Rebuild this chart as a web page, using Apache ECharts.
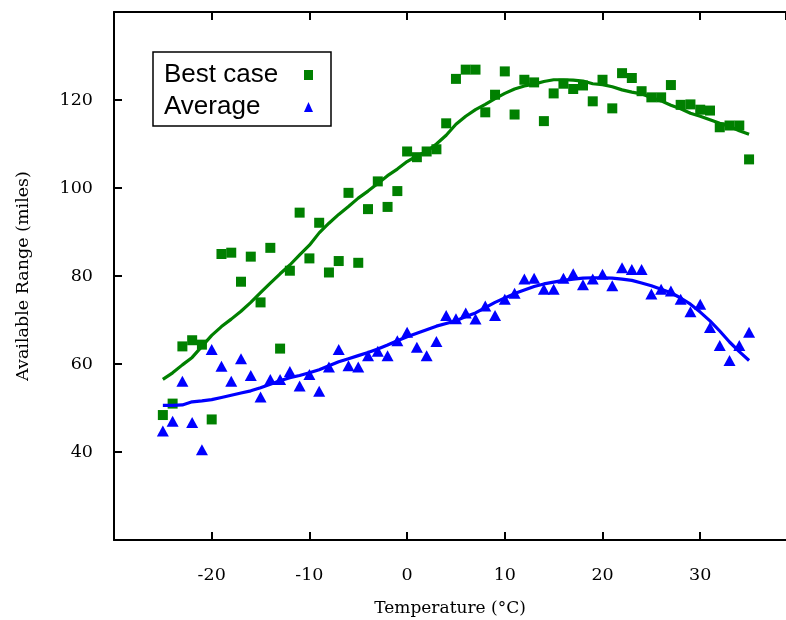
<!DOCTYPE html>
<html>
<head>
<meta charset="utf-8">
<script src="https://cdn.jsdelivr.net/npm/echarts@6/dist/echarts.min.js"></script>
<style>
  html, body { margin: 0; padding: 0; background: #ffffff; }
  #chart { width: 786px; height: 620px; }
</style>
</head>
<body>
<div id="chart"></div>
<script>
// Temperature (°C) for each observation
var temperatures = [-25,-24,-23,-22,-21,-20,-19,-18,-17,-16,-15,-14,-13,-12,-11,-10,-9,-8,-7,-6,-5,-4,-3,-2,-1,
  0,1,2,3,4,5,6,7,8,9,10,11,12,13,14,15,16,17,18,19,20,21,22,23,24,25,26,27,28,29,30,31,32,33,34,35];

// Best case range (miles), scatter points
var bestCase = [48.4,51.0,64.0,65.4,64.4,47.4,85.0,85.3,78.7,84.4,74.0,86.4,63.5,81.2,94.4,84.0,92.1,80.8,83.4,98.9,83.0,95.2,101.5,95.7,99.3,
  108.3,107.0,108.3,108.8,114.7,124.8,126.9,126.9,117.2,121.2,126.5,116.7,124.6,124.0,115.2,121.5,123.7,122.5,123.3,119.7,124.6,118.1,126.1,125.0,122.0,120.6,120.6,123.4,118.9,119.0,117.8,117.6,113.8,114.2,114.2,106.5];

// Best case smoothed trend line
var bestCaseTrend = [56.5,58.0,59.8,61.5,64.0,66.5,68.5,70.2,72.0,74.0,76.2,78.4,80.5,82.5,84.8,87.0,89.8,92.0,94.0,95.8,97.7,99.3,101.0,102.8,104.3,
  106.0,107.3,108.3,110.0,112.0,114.5,116.3,117.8,119.0,120.3,121.5,122.5,123.2,123.6,124.2,124.6,124.6,124.5,124.3,123.7,123.5,123.0,122.3,121.8,121.4,120.5,119.8,118.8,118.0,117.0,116.3,115.5,114.7,114.0,113.0,112.2];

// Average range (miles), scatter points
var average = [44.8,47.0,56.1,46.7,40.5,63.3,59.5,56.1,61.2,57.4,52.5,56.5,56.5,58.3,55.0,57.6,53.8,59.3,63.3,59.6,59.3,61.9,62.9,61.9,65.3,
  67.2,63.8,61.9,65.1,71.0,70.3,71.6,70.2,73.2,71.0,74.7,76.1,79.3,79.5,77.0,77.0,79.5,80.5,78.0,79.3,80.4,77.8,81.9,81.5,81.5,75.9,77.0,76.6,74.7,71.9,73.6,68.3,64.2,60.8,64.2,67.2];

// Average smoothed trend line
var averageTrend = [50.6,50.6,50.7,51.4,51.6,51.9,52.4,52.9,53.4,53.9,54.6,55.4,56.2,56.9,57.4,58.0,58.7,59.6,60.5,61.2,61.9,62.6,63.4,64.3,65.3,
  66.2,67.0,67.8,68.6,69.2,69.8,70.8,71.6,72.8,74.0,75.0,76.0,76.8,77.6,78.2,78.6,79.0,79.3,79.5,79.6,79.6,79.5,79.3,79.0,78.4,77.8,77.0,76.2,75.0,73.6,71.8,69.8,67.5,65.0,62.8,60.8];

var seriesNames = ['Best case', 'Average'];
var xAxisName = 'Temperature (°C)';
var yAxisName = 'Available Range (miles)';

function pairs(xs, ys) {
  return xs.map(function (x, i) { return [x, ys[i]]; });
}

var GREEN = '#008000';
var BLUE = '#0000ff';
var SERIF = '"DejaVu Serif", "Liberation Serif", serif';

var chart = echarts.init(document.getElementById('chart'), null, { renderer: 'canvas' });

var axisLineStyle = { color: '#000', width: 2 };

chart.setOption({
  animation: false,
  backgroundColor: '#ffffff',
  grid: { left: 114, top: 12, right: 0, bottom: 80, containLabel: false, outerBoundsMode: 'none' },
  legend: {
    orient: 'vertical',
    left: 153,
    top: 52,
    align: 'right',
    padding: [10, 18, 6, 11],
    itemGap: 6,
    itemWidth: 9,
    itemHeight: 10,
    borderColor: '#000',
    borderWidth: 1.5,
    borderRadius: 0,
    data: [
      { name: seriesNames[0], icon: 'rect' },
      { name: seriesNames[1], icon: 'triangle' }
    ],
    formatter: function (name) { return '{a|' + name + '}'; },
    textStyle: {
      color: '#000',
      fontFamily: '"Liberation Sans", Arial, sans-serif',
      fontSize: 26,
      rich: {
        a: {
          width: 135,
          align: 'left',
          fontSize: 26,
          fontFamily: '"Liberation Sans", Arial, sans-serif',
          color: '#000'
        }
      }
    }
  },
  xAxis: [
    {
      type: 'value',
      min: -30,
      max: 38.78,
      interval: 10,
      position: 'bottom',
      name: xAxisName,
      nameLocation: 'middle',
      nameGap: 60,
      nameTextStyle: { fontFamily: SERIF, fontSize: 17, color: '#000' },
      axisLine: { show: true, onZero: false, lineStyle: axisLineStyle },
      axisTick: { show: true, inside: true, length: 8, lineStyle: axisLineStyle },
      axisLabel: { showMinLabel: false, showMaxLabel: false, margin: 26, fontFamily: SERIF, fontSize: 17.5, color: '#000' },
      splitLine: { show: false }
    },
    {
      type: 'value',
      min: -30,
      max: 38.78,
      interval: 10,
      position: 'top',
      axisLine: { show: true, onZero: false, lineStyle: axisLineStyle },
      axisTick: { show: true, inside: true, length: 8, lineStyle: axisLineStyle },
      axisLabel: { show: false },
      splitLine: { show: false }
    }
  ],
  yAxis: [
    {
      type: 'value',
      min: 20,
      max: 140,
      interval: 20,
      position: 'left',
      name: yAxisName,
      nameLocation: 'middle',
      nameGap: 82,
      nameTextStyle: { fontFamily: SERIF, fontSize: 17.5, color: '#000' },
      axisLine: { show: true, onZero: false, lineStyle: axisLineStyle },
      axisTick: { show: true, inside: true, length: 8, lineStyle: axisLineStyle },
      axisLabel: { showMinLabel: false, showMaxLabel: false, margin: 21, fontFamily: SERIF, fontSize: 17.5, color: '#000' },
      splitLine: { show: false }
    }
  ],
  series: [
    {
      name: seriesNames[0],
      type: 'scatter',
      symbol: 'rect',
      symbolSize: 10,
      itemStyle: { color: GREEN, opacity: 1 },
      data: pairs(temperatures, bestCase),
      z: 2
    },
    {
      name: seriesNames[1],
      type: 'scatter',
      symbol: 'triangle',
      symbolSize: [12, 11],
      itemStyle: { color: BLUE, opacity: 1 },
      data: pairs(temperatures, average),
      z: 2
    },
    {
      name: 'Best case trend',
      type: 'line',
      showSymbol: false,
      symbol: 'none',
      smooth: false,
      lineStyle: { color: GREEN, width: 3.2 },
      itemStyle: { color: GREEN },
      data: pairs(temperatures, bestCaseTrend),
      z: 3
    },
    {
      name: 'Average trend',
      type: 'line',
      showSymbol: false,
      symbol: 'none',
      smooth: false,
      lineStyle: { color: BLUE, width: 3.2 },
      itemStyle: { color: BLUE },
      data: pairs(temperatures, averageTrend),
      z: 3
    }
  ]
});
</script>
</body>
</html>
